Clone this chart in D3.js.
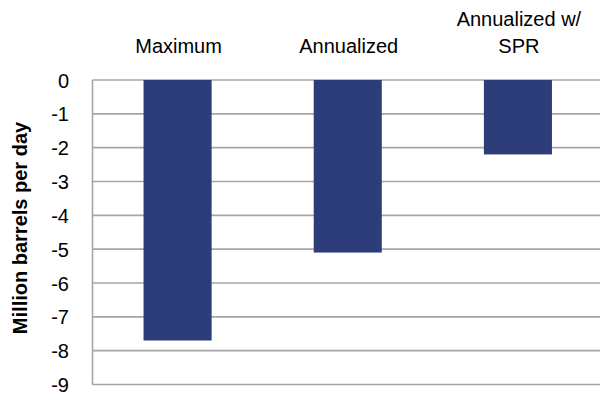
<!DOCTYPE html>
<html><head><meta charset="utf-8">
<script src="https://cdn.jsdelivr.net/npm/d3@7"></script>
<style>body{margin:0;background:#fff}svg{display:block}text{font-family:"Liberation Sans",Arial,sans-serif;fill:#000}</style>
</head><body><svg id="c" width="600" height="396"></svg>
<script>
const categories = ["Maximum", "Annualized", "Annualized w/\nSPR"];
const values = [-7.7, -5.1, -2.2];
const yTicks = [0, -1, -2, -3, -4, -5, -6, -7, -8, -9];
const yTitle = "Million barrels per day";

const svg = d3.select("#c");
const L = 92.5, R = 603, T = 80, B = 384.5;
const x = d3.scaleBand().domain(categories).range([L, R]).paddingInner(0.6).paddingOuter(0.3);
const y = d3.scaleLinear().domain([0, -9]).range([T, B]);

// gridlines
svg.append("g").selectAll("line").data(yTicks).join("line")
  .attr("x1", L).attr("x2", R).attr("y1", d => y(d)).attr("y2", d => y(d))
  .attr("stroke", "#a6a6a6").attr("stroke-width", 1.6);
svg.append("line").attr("x1", L).attr("x2", L).attr("y1", T).attr("y2", B)
  .attr("stroke", "#a6a6a6").attr("stroke-width", 1.6);

// bars
svg.append("g").selectAll("rect").data(values).join("rect")
  .attr("x", (d, i) => x(categories[i])).attr("width", x.bandwidth())
  .attr("y", y(0)).attr("height", d => y(d) - y(0))
  .attr("fill", "#2c3d7a");

// y tick labels
svg.append("g").selectAll("text").data(yTicks).join("text")
  .attr("x", 69).attr("y", d => y(d) + 1).attr("dy", "0.33em")
  .attr("text-anchor", "end").style("font-size", "20px").text(d => d);

// category labels
categories.forEach(c => {
  const lines = c.split("\n");
  const cx = x(c) + x.bandwidth() / 2 + 1;
  lines.forEach((ln, k) => {
    svg.append("text").attr("x", cx).attr("y", 53 - (lines.length - 1 - k) * 27)
      .attr("text-anchor", "middle").style("font-size", "20px").text(ln);
  });
});

// y title
svg.append("text").attr("transform", `translate(27,228) rotate(-90)`)
  .attr("text-anchor", "middle").style("font-size", "20px").style("font-weight", "bold").text(yTitle);
</script></body></html>
